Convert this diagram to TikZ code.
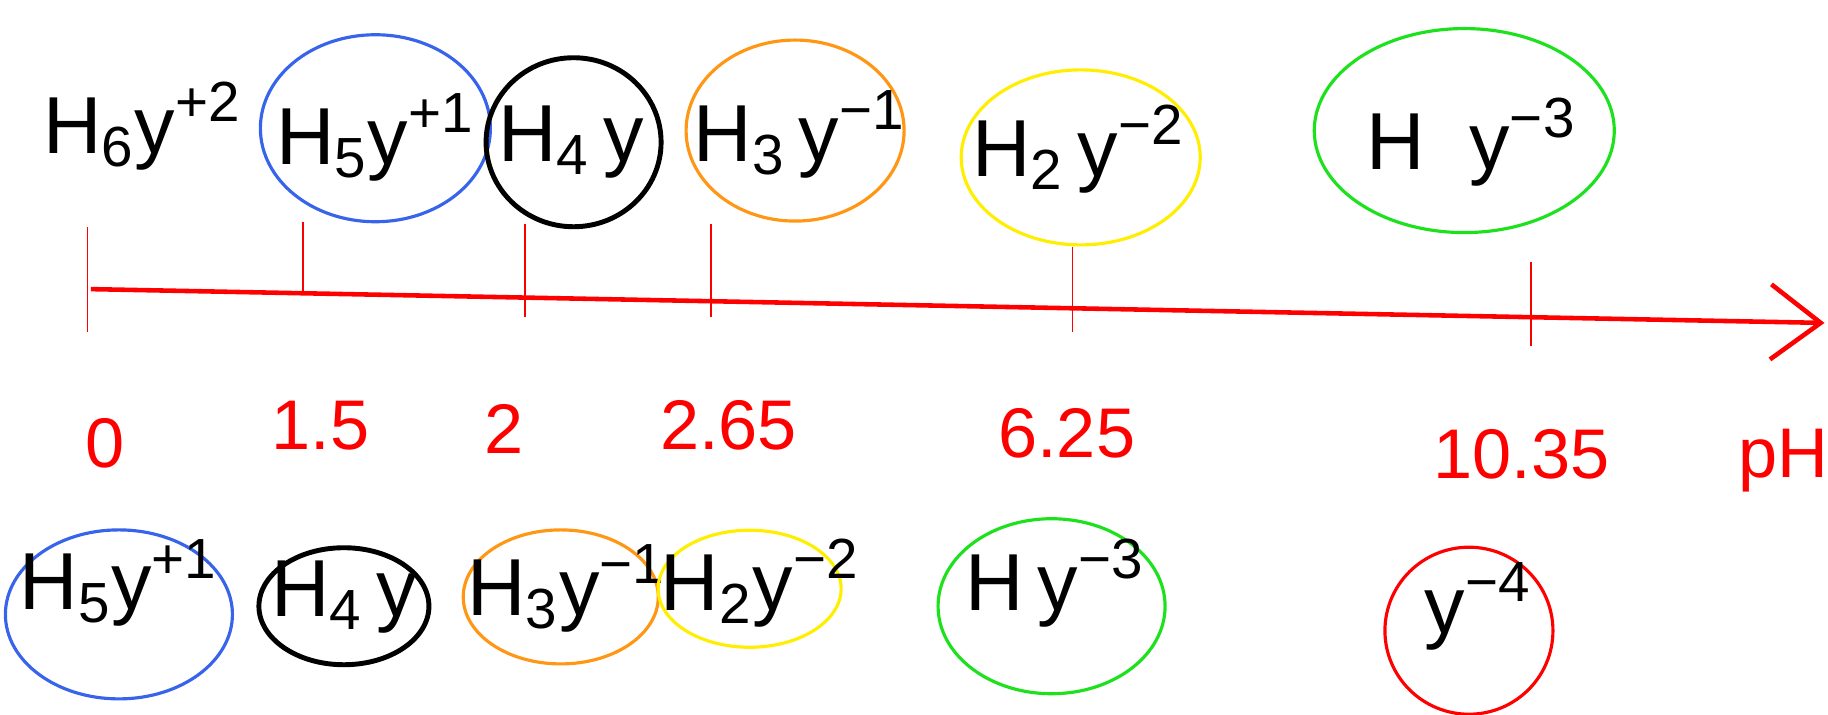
\documentclass[tikz,border=0pt]{standalone}
\usepackage{fontspec}
\setmainfont{Liberation Sans}
\usetikzlibrary{shapes.geometric,arrows.meta}

\definecolor{penblue}{RGB}{55,100,235}
\definecolor{penorange}{RGB}{255,150,20}
\definecolor{penyellow}{RGB}{255,238,0}
\definecolor{pengreen}{RGB}{30,225,30}

\begin{document}
\begin{tikzpicture}[
    x=0.011658cm, y=-0.011658cm,
    species/.style={font=\fontsize{23}{26}\selectfont, inner sep=0pt},
    ring/.style={ellipse, draw=#1, line width=0.9pt, inner sep=0pt},
    value/.style={font=\fontsize{20}{24}\selectfont, text=red, inner sep=0pt},
    phtick/.style={red, line width=0.5pt},
    axis/.style={red, line width=1.3pt, -{Straight Barb[length=0.5cm, width=0.75cm, line width=1.3pt]}}
]
\useasboundingbox (0,0) rectangle (1568,613);

% pH axis
\coordinate (axstart) at (78,248);
\coordinate (axend) at (1565,277);
\draw[axis] (axstart) -- (axend);

% Ticks
\foreach \x/\ya/\yb [count=\i] in {75/195/285, 260/190/252, 450/192/272, 610/192/272, 920/212/285, 1313/225/297} {
  \coordinate (tickA\i) at (\x,\ya);
  \coordinate (tickB\i) at (\x,\yb);
  \draw[phtick] (tickA\i) -- (tickB\i);
}

% Top row
\node[species] (topH6) at (122,108) {H\textsubscript{6}y\textsuperscript{+2}};
\node[ring=penblue, minimum width=2.30cm, minimum height=1.87cm] (ringtopH5) at (322,110) {};
\node[species] (topH5) at (322,118) {H\textsubscript{5}y\textsuperscript{+1}};
\node[ring=black, line width=1.4pt, minimum width=1.75cm, minimum height=1.69cm] (ringtopH4) at (492,122) {};
\node[species] (topH4) at (490,122) {H\textsubscript{4}\,y};
\node[ring=penorange, minimum width=2.18cm, minimum height=1.81cm] (ringtopH3) at (682,112) {};
\node[species] (topH3) at (686,115) {H\textsubscript{3}\,y\textsuperscript{−1}};
\node[ring=penyellow, minimum width=2.39cm, minimum height=1.75cm] (ringtopH2) at (927,135) {};
\node[species] (topH2) at (925,128) {H\textsubscript{2}\,y\textsuperscript{−2}};
\node[ring=pengreen, minimum width=3.00cm, minimum height=2.04cm] (ringtopH1) at (1256,112) {};
\node[species] (topH1) at (1262,122) {H\;\;y\textsuperscript{−3}};

% pH values
\node[value] (pka0) at (90,380) {0};
\node[value] (pka1) at (275,365) {1.5};
\node[value] (pka2) at (432,368) {2};
\node[value] (pka3) at (625,365) {2.65};
\node[value] (pka4) at (915,372) {6.25};
\node[value] (pka5) at (1305,390) {10.35};
\node[value] (phlabel) at (1530,395) {pH};

% Bottom row
\node[ring=penblue, minimum width=2.27cm, minimum height=1.69cm] (ringbotH5) at (102,527) {};
\node[species] (botH5) at (102,500) {H\textsubscript{5}y\textsuperscript{+1}};
\node[ring=black, line width=1.4pt, minimum width=1.70cm, minimum height=1.17cm] (ringbotH4) at (295,520) {};
\node[species] (botH4) at (295,512) {H\textsubscript{4}\,y};
\node[ring=penorange, minimum width=1.95cm, minimum height=1.34cm] (ringbotH3) at (481,512) {};
\node[species] (botH3) at (486,505) {H\textsubscript{3}y\textsuperscript{−1}};
\node[ring=penyellow, minimum width=1.83cm, minimum height=1.17cm] (ringbotH2) at (643,505) {};
\node[species] (botH2) at (652,500) {H\textsubscript{2}y\textsuperscript{−2}};
\node[ring=pengreen, minimum width=2.27cm, minimum height=1.75cm] (ringbotH1) at (902,520) {};
\node[species] (botH1) at (905,500) {H\,y\textsuperscript{−3}};
\node[ring=red, minimum width=1.68cm, minimum height=1.67cm] (ringbotH0) at (1260,541) {};
\node[species] (botH0) at (1268,520) {y\textsuperscript{−4}};

\end{tikzpicture}
\end{document}
